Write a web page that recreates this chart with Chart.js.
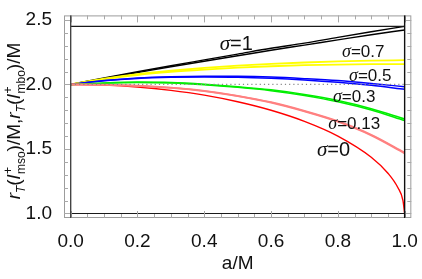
<!DOCTYPE html>
<html>
<head>
<meta charset="utf-8">
<script src="https://cdn.jsdelivr.net/npm/chart.js@4/dist/chart.umd.min.js"></script>
<style>
  html, body { margin: 0; padding: 0; background: #fff; }
  #wrap { width: 422px; height: 279px; }
</style>
</head>
<body>
<div id="wrap"><canvas id="chart" width="422" height="279"></canvas></div>
<script>
const A_GRID = [0, 0.1, 0.2, 0.3, 0.4, 0.5, 0.6, 0.7, 0.8, 0.9, 1.0];
const A_RED  = [0, 0.1, 0.2, 0.3, 0.4, 0.5, 0.6, 0.7, 0.8, 0.9, 0.95, 0.98, 0.995, 1.0];

const SIG1_UP   = [2.0, 2.05, 2.098, 2.145, 2.19, 2.235, 2.28, 2.32, 2.365, 2.408, 2.45];
const SIG1_LO   = [2.0, 2.047, 2.092, 2.137, 2.18, 2.222, 2.265, 2.305, 2.345, 2.385, 2.422];
const SIG07_UP  = [2.0, 2.045, 2.08, 2.106, 2.128, 2.146, 2.16, 2.17, 2.178, 2.184, 2.188];
const SIG07_LO  = [2.0, 2.04, 2.073, 2.097, 2.115, 2.13, 2.141, 2.149, 2.154, 2.157, 2.158];
const SIG05_UP  = [2.0, 2.03, 2.05, 2.06, 2.064, 2.063, 2.057, 2.045, 2.03, 2.008, 1.982];
const SIG05_LO  = [2.0, 2.028, 2.046, 2.055, 2.058, 2.056, 2.048, 2.035, 2.017, 1.993, 1.963];
const SIG03_UP  = [2.0, 2.012, 2.018, 2.015, 2.002, 1.983, 1.958, 1.922, 1.875, 1.812, 1.732];
const SIG03_LO  = [2.0, 2.01, 2.015, 2.011, 1.998, 1.978, 1.952, 1.915, 1.866, 1.802, 1.72];
const SIG013_UP = [2.0, 1.998, 1.99, 1.975, 1.95, 1.912, 1.862, 1.795, 1.715, 1.61, 1.472];
const SIG013_LO = [2.0, 1.997, 1.989, 1.973, 1.948, 1.909, 1.859, 1.791, 1.711, 1.605, 1.466];
const SIG0      = [2.0, 1.995, 1.98, 1.954, 1.917, 1.866, 1.80, 1.714, 1.60, 1.436, 1.312, 1.199, 1.1, 1.0];

const H_LINES = [2.45, 1.0];     // solid reference lines
const DOT_LINE = 2.0;            // dotted reference line
const V_LINES = [0, 1];

const X_TICKS = [0, 0.2, 0.4, 0.6, 0.8, 1.0];
const Y_TICKS = [1.0, 1.5, 2.0, 2.5];

const SIGMA_LABELS = [
    { text: '=1',    a: 0.496, r: 2.306, size: 20 },
    { text: '=0.7',  a: 0.876, r: 2.246, size: 17 },
    { text: '=0.5',  a: 0.897, r: 2.06,  size: 17 },
    { text: '=0.3',  a: 0.849, r: 1.903, size: 17 },
    { text: '=0.13', a: 0.849, r: 1.694, size: 17 },
    { text: '=0',    a: 0.787, r: 1.485, size: 20 },
];

const FONT = '"Liberation Sans", Arial, sans-serif';
const SERIF = '"Liberation Serif", "Times New Roman", serif';

const pts = (xs, ys) => xs.map((x, i) => ({ x, y: ys[i] }));

function curve(xs, ys, color, width) {
    return {
        data: pts(xs, ys),
        borderColor: color,
        borderWidth: width || 1.4,
        pointRadius: 0,
        fill: false,
        cubicInterpolationMode: 'monotone',
    };
}

const datasets = [
    ...H_LINES.map(v => ({
        data: pts([A_GRID[0], A_GRID[A_GRID.length - 1]], [v, v]),
        borderColor: '#1a1a1a', borderWidth: 1.2, pointRadius: 0,
    })),
    {
        data: pts([A_GRID[0], A_GRID[A_GRID.length - 1]], [DOT_LINE, DOT_LINE]),
        borderColor: '#8a8a8a', borderWidth: 1.2, borderDash: [1.2, 3], pointRadius: 0,
    },
    curve(A_GRID, SIG013_UP, '#ff8080', 1.8),
    curve(A_GRID, SIG013_LO, '#ff8080', 1.8),
    curve(A_RED, SIG0, '#ff0000', 1.4),
    curve(A_GRID, SIG03_UP, '#00ee00', 1.5),
    curve(A_GRID, SIG03_LO, '#00ee00', 1.5),
    curve(A_GRID, SIG05_UP, '#0000ff', 1.5),
    curve(A_GRID, SIG05_LO, '#0000ff', 1.5),
    curve(A_GRID, SIG07_UP, '#ffff00', 1.8),
    curve(A_GRID, SIG07_LO, '#ffff00', 1.8),
    curve(A_GRID, SIG1_UP, '#000000'),
    curve(A_GRID, SIG1_LO, '#000000'),
];

// frame with inward ticks, plus the vertical lines at a = 0 and a = 1
const framePlugin = {
    id: 'frame',
    afterDatasetsDraw(chart) {
        const { ctx, chartArea: ca, scales: { x, y } } = chart;
        ctx.save();
        ctx.strokeStyle = '#9c9c9c';
        ctx.lineWidth = 1;
        ctx.strokeRect(ca.left + 0.5, ca.top + 0.5, ca.width - 1, ca.height - 1);

        ctx.strokeStyle = '#a8a8a8';
        ctx.beginPath();
        for (let i = 0; i <= 20; i++) {
            const v = i * 0.05;
            const px = Math.round(x.getPixelForValue(v)) + 0.5;
            const len = i % 4 === 0 ? 7 : 4;
            ctx.moveTo(px, ca.bottom); ctx.lineTo(px, ca.bottom - len);
            ctx.moveTo(px, ca.top); ctx.lineTo(px, ca.top + len);
        }
        for (let i = 10; i <= 25; i++) {
            const v = i * 0.1;
            const py = Math.round(y.getPixelForValue(v)) + 0.5;
            const len = i % 5 === 0 ? 7 : 4;
            ctx.moveTo(ca.left, py); ctx.lineTo(ca.left + len, py);
            ctx.moveTo(ca.right, py); ctx.lineTo(ca.right - len, py);
        }
        ctx.stroke();

        V_LINES.forEach((v, i) => {
            const px = x.getPixelForValue(v);
            ctx.strokeStyle = i === 0 ? '#444' : '#111';
            ctx.lineWidth = 1.4;
            ctx.beginPath();
            ctx.moveTo(px, ca.top); ctx.lineTo(px, ca.bottom);
            ctx.stroke();
        });
        ctx.restore();
    },
};

// sigma annotations
const labelPlugin = {
    id: 'sigmaLabels',
    afterDatasetsDraw(chart) {
        const { ctx, scales: { x, y } } = chart;
        ctx.save();
        ctx.fillStyle = '#111';
        ctx.textBaseline = 'middle';
        SIGMA_LABELS.forEach(l => {
            const sFont = `italic ${l.size + 1}px ${SERIF}`;
            const tFont = `${l.size}px ${FONT}`;
            ctx.font = sFont;
            const w1 = ctx.measureText('σ').width;
            ctx.font = tFont;
            const w2 = ctx.measureText(l.text).width;
            let px = x.getPixelForValue(l.a) - (w1 + w2) / 2;
            const py = y.getPixelForValue(l.r);
            ctx.textAlign = 'left';
            ctx.font = sFont;
            ctx.fillText('σ', px, py);
            ctx.font = tFont;
            ctx.fillText(l.text, px + w1, py);
        });
        ctx.restore();
    },
};

// y-axis title with sub- and superscripts
const yTitlePlugin = {
    id: 'yTitle',
    afterDraw(chart) {
        const ctx = chart.ctx;
        const big = 19, small = 12;
        const fI = `italic ${big}px ${FONT}`, fN = `${big}px ${FONT}`;
        const sI = `italic ${small}px ${FONT}`, sN = `${small}px ${FONT}`;
        const parts = [
            { t: 'r', f: fI }, { t: 'T', f: sI, dy: 5 }, { t: '(', f: fN },
            { t: 'l', f: fI }, { sup: '+', sub: 'mso' }, { t: ')/M,', f: fN },
            { t: 'r', f: fI }, { t: 'T', f: sI, dy: 5 }, { t: '(', f: fN },
            { t: 'l', f: fI }, { sup: '+', sub: 'mbo' }, { t: ')/M', f: fN },
        ];
        ctx.save();
        let total = 0;
        parts.forEach(p => {
            if (p.sup) {
                ctx.font = sN;
                p.w = Math.max(ctx.measureText(p.sup).width, ctx.measureText(p.sub).width) + 1;
            } else {
                ctx.font = p.f;
                p.w = ctx.measureText(p.t).width;
            }
            total += p.w;
        });
        ctx.translate(20, 121);
        ctx.rotate(-Math.PI / 2);
        ctx.fillStyle = '#111';
        ctx.textBaseline = 'alphabetic';
        ctx.textAlign = 'left';
        let cx = -total / 2;
        parts.forEach(p => {
            if (p.sup) {
                ctx.font = sN;
                ctx.fillText(p.sup, cx + 1, -8);
                ctx.fillText(p.sub, cx + 1, 5);
            } else {
                ctx.font = p.f;
                ctx.fillText(p.t, cx, p.dy || 0);
            }
            cx += p.w;
        });
        ctx.restore();
    },
};

new Chart(document.getElementById('chart'), {
    type: 'line',
    data: { datasets },
    options: {
        responsive: false,
        animation: false,
        devicePixelRatio: 1,
        layout: { padding: { top: 7, right: 8, left: 0, bottom: 0 } },
        plugins: { legend: { display: false }, tooltip: { enabled: false } },
        scales: {
            x: {
                type: 'linear',
                min: -0.02,
                max: 1.02,
                afterBuildTicks: s => { s.ticks = X_TICKS.map(v => ({ value: v })); },
                afterFit: s => { s.height = 61; },
                ticks: {
                    callback: v => v.toFixed(1),
                    font: { family: FONT, size: 19 },
                    color: '#111',
                    padding: 4,
                    maxRotation: 0,
                    autoSkip: false,
                },
                grid: { display: false },
                border: { display: false },
                title: {
                    display: true,
                    text: 'a/M',
                    font: { family: FONT, size: 19 },
                    color: '#111',
                    padding: { top: 0, bottom: 4 },
                },
            },
            y: {
                type: 'linear',
                min: 0.965,
                max: 2.535,
                afterBuildTicks: s => { s.ticks = Y_TICKS.map(v => ({ value: v })); },
                afterFit: s => { s.width = 64; },
                ticks: {
                    callback: v => v.toFixed(1),
                    font: { family: FONT, size: 19 },
                    color: '#111',
                    padding: 4,
                    autoSkip: false,
                },
                grid: { display: false },
                border: { display: false },
            },
        },
    },
    plugins: [framePlugin, labelPlugin, yTitlePlugin],
});
</script>
</body>
</html>
